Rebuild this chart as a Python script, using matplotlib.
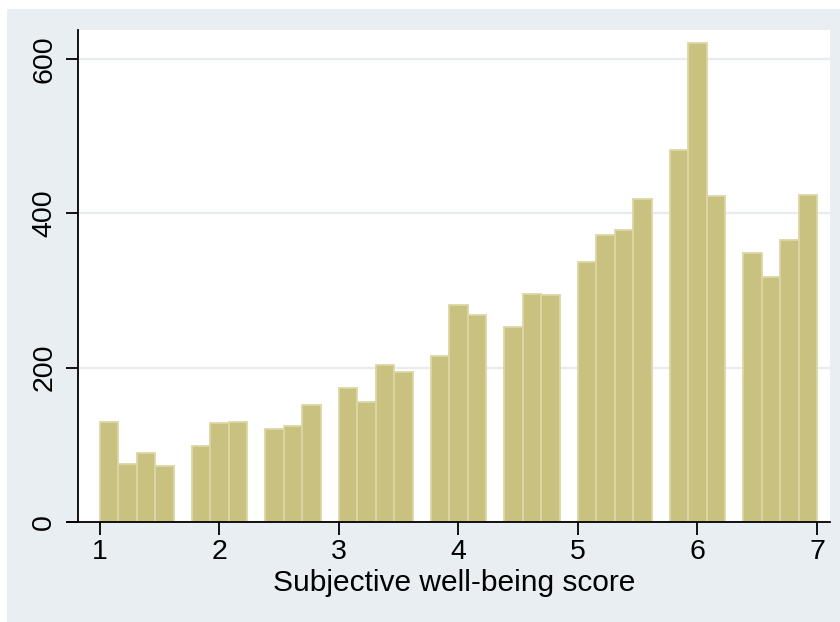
import numpy as np
import matplotlib.pyplot as plt
from matplotlib.patches import Rectangle

plt.rcParams['font.family'] = ['Liberation Sans', 'DejaVu Sans']

# histogram: 39 bins between 1 and 7
edges = np.linspace(1, 7, 40)
counts = [130, 75, 90, 72, 0,
          98, 128, 130, 0,
          120, 125, 151, 0,
          174, 155, 204, 194, 0,
          215, 281, 268, 0,
          253, 295, 294, 0,
          337, 372, 378, 419, 0,
          482, 621, 423, 0,
          348, 317, 365, 424]
xticks = [1, 2, 3, 4, 5, 6, 7]
yticks = [0, 200, 400, 600]
xlabel = 'Subjective well-being score'

bg = '#E8EEF1'
fig = plt.figure(figsize=(8.4, 6.22), dpi=100, facecolor='white')
fig.patches.append(Rectangle((7 / 840, 0), 1, 1 - 9 / 622, transform=fig.transFigure,
                             facecolor=bg, edgecolor='none', zorder=-10))
ax = fig.add_axes([78 / 840, 1 - 522 / 622, 752 / 840, 492 / 622])
ax.set_facecolor('white')

ax.bar(edges[:-1], counts, width=np.diff(edges), align='edge',
       color='#C9C17F', edgecolor='#DCD6A6', linewidth=1.3, zorder=2)

ax.set_xlim(0.816, 7.109)
ax.set_ylim(0, 637.6)
ax.set_xticks(xticks)
ax.set_yticks(yticks)
ax.set_yticklabels([str(v) for v in yticks], rotation=90, va='center')
for y in yticks[1:]:
    ax.axhline(y, color='#E6ECEF', linewidth=1.6, zorder=1)

for s in ['top', 'right']:
    ax.spines[s].set_visible(False)
ax.spines['left'].set_color('black')
ax.spines['bottom'].set_color('black')
ax.spines['left'].set_linewidth(1.3)
ax.spines['bottom'].set_linewidth(1.3)
ax.spines['bottom'].set_bounds(0.816 - 10 / 119.5, 7.109)

ax.tick_params(axis='both', length=9, width=1.3, labelsize=20.5, color='black')
ax.tick_params(axis='x', pad=3)
ax.tick_params(axis='y', pad=6)
ax.set_xlabel(xlabel, fontsize=21.5, labelpad=3)

plt.savefig('out.png', dpi=100, facecolor=fig.get_facecolor())
